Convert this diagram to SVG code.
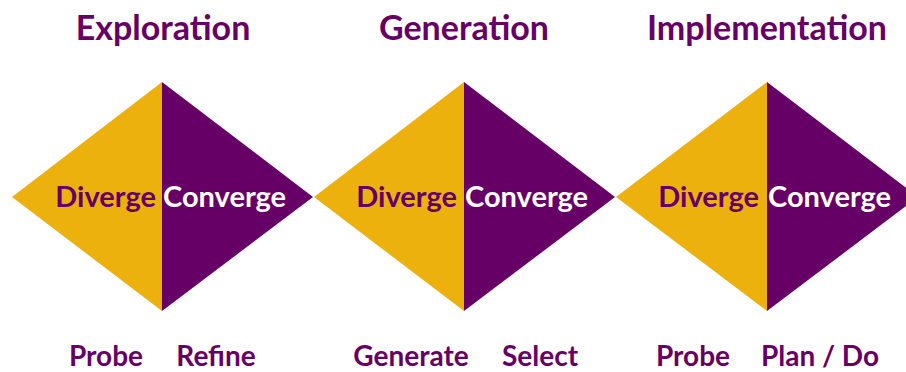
<svg xmlns="http://www.w3.org/2000/svg" width="906" height="372" viewBox="0 0 906 372">
<style>
.y{fill:#EDB10E}
.p{fill:#660066}
text{font-family:Lato,"Open Sans","Liberation Sans",sans-serif;font-weight:bold}
.t{font-size:34px;fill:#660066;text-anchor:middle}
.d{font-size:29px;fill:#660066;text-anchor:end}
.c{font-size:29px;fill:#ffffff;text-anchor:start}
.b{font-size:28px;fill:#660066;text-anchor:middle}
</style>
<rect width="906" height="372" fill="#ffffff"/>
<g id="exploration">
<polygon class="y" points="12,197 162,82 162,311"/>
<polygon class="p" points="162,82 313,197 162,311"/>
<text class="t" x="163" y="40">Exploration</text>
<text class="d" x="156" y="207">Diverge</text>
<text class="c" x="163" y="207">Converge</text>
<text class="b" x="106" y="366">Probe</text>
<text class="b" x="216" y="366">Refine</text>
</g>
<g id="generation">
<polygon class="y" points="314,197 464,82 464,311"/>
<polygon class="p" points="464,82 615,197 464,311"/>
<text class="t" x="464" y="40">Generation</text>
<text class="d" x="457" y="207">Diverge</text>
<text class="c" x="465" y="207">Converge</text>
<text class="b" x="411" y="366">Generate</text>
<text class="b" x="540" y="366">Select</text>
</g>
<g id="implementation">
<polygon class="y" points="616,197 767,82 767,311"/>
<polygon class="p" points="767,82 918,197 767,311"/>
<text class="t" x="767" y="40">Implementation</text>
<text class="d" x="759" y="207">Diverge</text>
<text class="c" x="768" y="207">Converge</text>
<text class="b" x="693" y="366">Probe</text>
<text class="b" x="820" y="366">Plan / Do</text>
</g>
<g id="connectors"></g>
</svg>
